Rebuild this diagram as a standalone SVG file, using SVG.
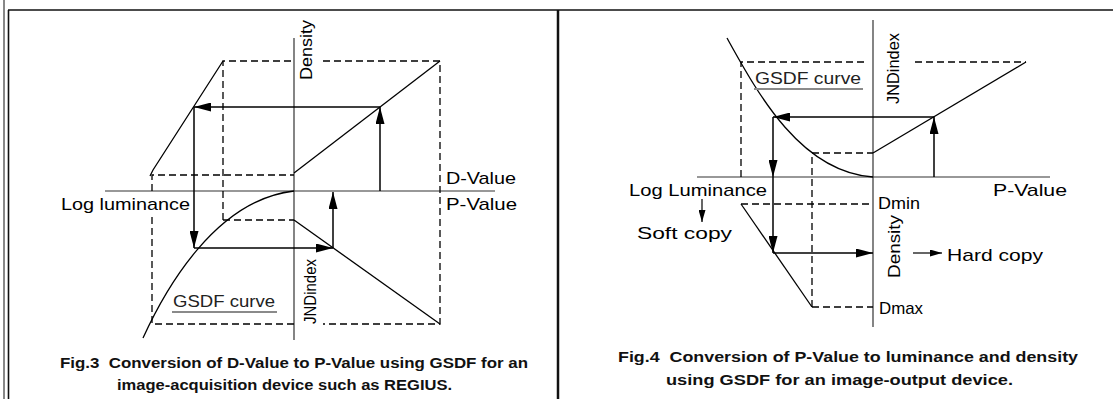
<svg xmlns="http://www.w3.org/2000/svg" width="1113" height="399" viewBox="0 0 1113 399">
<style>
.frame{stroke:#111;fill:none}
.axis{stroke:#333;stroke-width:1.2;fill:none}
.solid{stroke:#000;stroke-width:1.3;fill:none}
.dash{stroke:#000;stroke-width:1.3;fill:none;stroke-dasharray:7 4}
.arrow{stroke:#000;stroke-width:1.5;fill:none;marker-end:url(#ah)}
.sarrow{stroke:#000;stroke-width:1.2;fill:none;marker-end:url(#sah)}
.lbl{font-family:"Liberation Sans",Arial,sans-serif;font-size:17px;fill:#000}
.gsdf{font-family:"Liberation Sans",Arial,sans-serif;font-size:17px;fill:#222}
.uline{stroke:#8a8a8a;stroke-width:2}
.cap{font-family:"Liberation Sans",Arial,sans-serif;font-size:14.5px;font-weight:bold;fill:#111}
</style>
<defs>
<marker id="ah" markerUnits="userSpaceOnUse" viewBox="0 0 17 9" refX="17" refY="4.5" markerWidth="17" markerHeight="9" orient="auto"><path d="M0,0 L17,4.5 L0,9 z" fill="#000"/></marker>
<marker id="sah" markerUnits="userSpaceOnUse" viewBox="0 0 12 7" refX="12" refY="3.5" markerWidth="12" markerHeight="7" orient="auto"><path d="M0,0 L12,3.5 L0,7 z" fill="#000"/></marker>
</defs>
<rect width="1113" height="399" fill="#fff"/>
<g id="frame">
<line class="frame" x1="4" y1="0" x2="4" y2="399" stroke="#777" stroke-width="1"/>
<line class="frame" x1="8.5" y1="10" x2="8.5" y2="399" stroke-width="1.6"/>
<line class="frame" x1="8" y1="10" x2="1113" y2="10" stroke-width="1.6"/>
<line class="frame" x1="558" y1="10" x2="558" y2="399" stroke-width="2.5"/>
</g>
<g id="fig3">
<g id="fig3-axes">
<line class="axis" x1="105" y1="191" x2="495" y2="191"/>
<line class="axis" x1="294" y1="38" x2="294" y2="340"/>
</g>
<g id="fig3-curves">
<path class="solid" d="M150,176 L153,170 L223,61"/>
<path class="solid" d="M294,173 L440,61"/>
<path class="solid" d="M294,220 L440,324"/>
<path id="fig3-gsdf" class="solid" d="M143,338 C165,290 215,200 294,191"/>
</g>
<g id="fig3-dashed">
<path class="dash" d="M223,220 L223,61 L293,61"/>
<path class="dash" d="M323,61 L440,61 L440,324 L323,324"/>
<path class="dash" d="M294,324 L152,324 L152,216"/>
<path class="dash" d="M152,191 L152,175 L294,175"/>
<path class="dash" d="M223,220 L294,220"/>
</g>
<g id="fig3-connectors">
<line class="arrow" x1="380" y1="191" x2="380" y2="107"/>
<line class="arrow" x1="380" y1="107" x2="194" y2="107"/>
<line class="arrow" x1="194" y1="107" x2="194" y2="248"/>
<line class="arrow" x1="194" y1="248" x2="333" y2="248"/>
<line class="arrow" x1="333" y1="248" x2="333" y2="192"/>
</g>
<g id="fig3-labels">
<text class="lbl" transform="translate(312,80) rotate(-90)" textLength="60" lengthAdjust="spacingAndGlyphs">Density</text>
<text class="lbl" x="446" y="184" textLength="70" lengthAdjust="spacingAndGlyphs">D-Value</text>
<text class="lbl" x="446" y="210" textLength="71" lengthAdjust="spacingAndGlyphs">P-Value</text>
<text class="lbl" x="61" y="210" textLength="129" lengthAdjust="spacingAndGlyphs">Log luminance</text>
<text class="gsdf" x="173" y="307" textLength="102" lengthAdjust="spacingAndGlyphs">GSDF curve</text>
<line class="uline" x1="172" y1="312" x2="277" y2="312"/>
<text class="lbl" transform="translate(316,324) rotate(-90)" textLength="65" lengthAdjust="spacingAndGlyphs">JNDindex</text>
</g>
<g id="fig3-caption">
<text class="cap" x="60" y="368" textLength="468" lengthAdjust="spacingAndGlyphs" xml:space="preserve">Fig.3  Conversion of D-Value to P-Value using GSDF for an</text>
<text class="cap" x="117" y="390" textLength="335" lengthAdjust="spacingAndGlyphs">image-acquisition device such as REGIUS.</text>
</g>
</g>
<g id="fig4">
<g id="fig4-axes">
<line class="axis" x1="697" y1="177" x2="1050" y2="177"/>
<line class="axis" x1="873" y1="20" x2="873" y2="327"/>
</g>
<g id="fig4-curves">
<path id="fig4-gsdf" class="solid" d="M727,38 C757,92 800,172 873,177"/>
<path class="solid" d="M873,153 L1026,62"/>
<path class="solid" d="M741,204 L812,307"/>
</g>
<g id="fig4-dashed">
<path class="dash" d="M741,177 L741,62 L868,62"/>
<path class="dash" d="M915,62 L1026,62"/>
<path class="dash" d="M812,307 L812,153 L873,153"/>
<path class="dash" d="M741,204 L873,204"/>
<path class="dash" d="M812,307 L873,307"/>
</g>
<g id="fig4-connectors">
<line class="arrow" x1="934" y1="177" x2="934" y2="117"/>
<line class="arrow" x1="934" y1="117" x2="773" y2="117"/>
<line class="arrow" x1="773" y1="117" x2="773" y2="177"/>
<line class="arrow" x1="773" y1="177" x2="773" y2="253"/>
<line class="arrow" x1="773" y1="253" x2="873" y2="253"/>
<line class="sarrow" x1="702" y1="199" x2="702" y2="222"/>
<line class="sarrow" x1="913" y1="253" x2="942" y2="253"/>
</g>
<g id="fig4-labels">
<text class="lbl" transform="translate(899,104) rotate(-90)" textLength="71" lengthAdjust="spacingAndGlyphs">JNDindex</text>
<text class="gsdf" x="755" y="84" textLength="106" lengthAdjust="spacingAndGlyphs">GSDF curve</text>
<line class="uline" x1="754" y1="89" x2="863" y2="89"/>
<text class="lbl" x="629" y="196" textLength="138" lengthAdjust="spacingAndGlyphs">Log Luminance</text>
<text class="lbl" x="993" y="196" textLength="74" lengthAdjust="spacingAndGlyphs">P-Value</text>
<text class="lbl" x="637" y="239" textLength="95" lengthAdjust="spacingAndGlyphs">Soft copy</text>
<text class="lbl" x="878" y="209" textLength="42" lengthAdjust="spacingAndGlyphs">Dmin</text>
<text class="lbl" transform="translate(900,278) rotate(-90)" textLength="63" lengthAdjust="spacingAndGlyphs">Density</text>
<text class="lbl" x="947" y="261" textLength="96" lengthAdjust="spacingAndGlyphs">Hard copy</text>
<text class="lbl" x="879" y="314" textLength="44" lengthAdjust="spacingAndGlyphs">Dmax</text>
</g>
<g id="fig4-caption">
<text class="cap" x="618" y="362" textLength="460" lengthAdjust="spacingAndGlyphs" xml:space="preserve">Fig.4  Conversion of P-Value to luminance and density</text>
<text class="cap" x="666" y="385" textLength="347" lengthAdjust="spacingAndGlyphs">using GSDF for an image-output device.</text>
</g>
</g>
</svg>
